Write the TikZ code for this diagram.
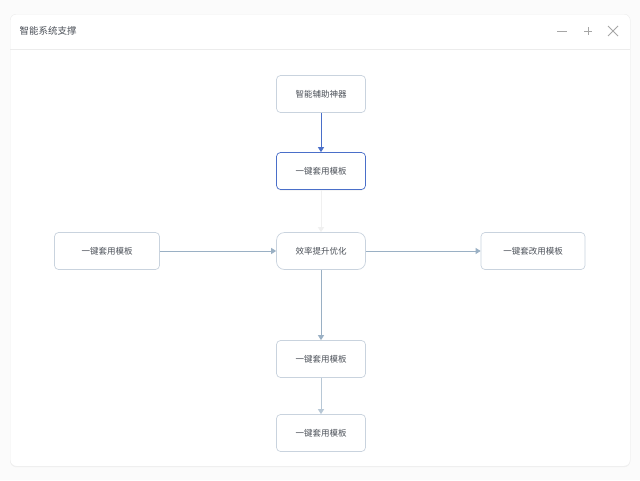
\documentclass[tikz,border=0pt]{standalone}
\usepackage{fontspec}
\newfontfamily\cjk{Noto Sans CJK SC}
\usetikzlibrary{arrows.meta,shadows}
\definecolor{bord}{HTML}{C9D3DE}
\definecolor{blueb}{HTML}{4A6FC9}
\definecolor{arr}{HTML}{9AB0C4}
\definecolor{txt}{HTML}{4A4F57}
\begin{document}
\begin{tikzpicture}[x=1pt,y=-1pt,
  box/.style={draw=bord,fill=white,rounded corners=4pt,minimum width=89pt,minimum height=37pt,font=\cjk\fontsize{8.5}{10}\selectfont,text=txt,line width=0.7pt},
  conn/.style={draw=arr,line width=0.8pt,-{Triangle[width=6pt,length=5pt]}}]
\useasboundingbox (0,0) rectangle (640,480);
\fill[white!95!gray!60] (0,0) rectangle (640,480);
\node[draw=gray!15,fill=white,rounded corners=6pt,minimum width=620pt,minimum height=452pt,anchor=north west,drop shadow={opacity=0.08,shadow xshift=0pt,shadow yshift=-1pt}] (win) at (10,14) {};
\draw[gray!15,line width=0.6pt] (10,49) -- (630,49);
\node[anchor=west,font=\cjk\fontsize{9.5}{11}\selectfont,text=txt] (title) at (16,31) {智能系统支撑};
\draw[gray!70,line width=0.8pt] (557,31) -- (567,31);
\draw[gray!70,line width=0.6pt] (584,31) -- (592,31) (588,27) -- (588,35);
\draw[gray!70,line width=0.8pt] (608,26) -- (618,36) (608,36) -- (618,26);
\node[box] (a) at (321,94) {智能辅助神器};
\node[box,draw=blueb,drop shadow={opacity=0.12,shadow xshift=0pt,shadow yshift=-1pt}] (b) at (321,171) {一键套用模板};
\node[box,rounded corners=8pt] (c) at (321,251) {效率提升优化};
\node[box,minimum width=105pt] (l) at (107,251) {一键套用模板};
\node[box,minimum width=104pt] (r) at (533,251) {一键套改用模板};
\node[box] (d) at (321,359) {一键套用模板};
\node[box] (e) at (321,433) {一键套用模板};
\draw[conn,draw=blueb] (a) -- (b);
\draw[conn,draw=gray!12] (b) -- (c);
\draw[conn] (l) -- (c);
\draw[conn] (c) -- (r);
\draw[conn] (c) -- (d);
\draw[conn,draw=arr!70] (d) -- (e);
\end{tikzpicture}
\end{document}
